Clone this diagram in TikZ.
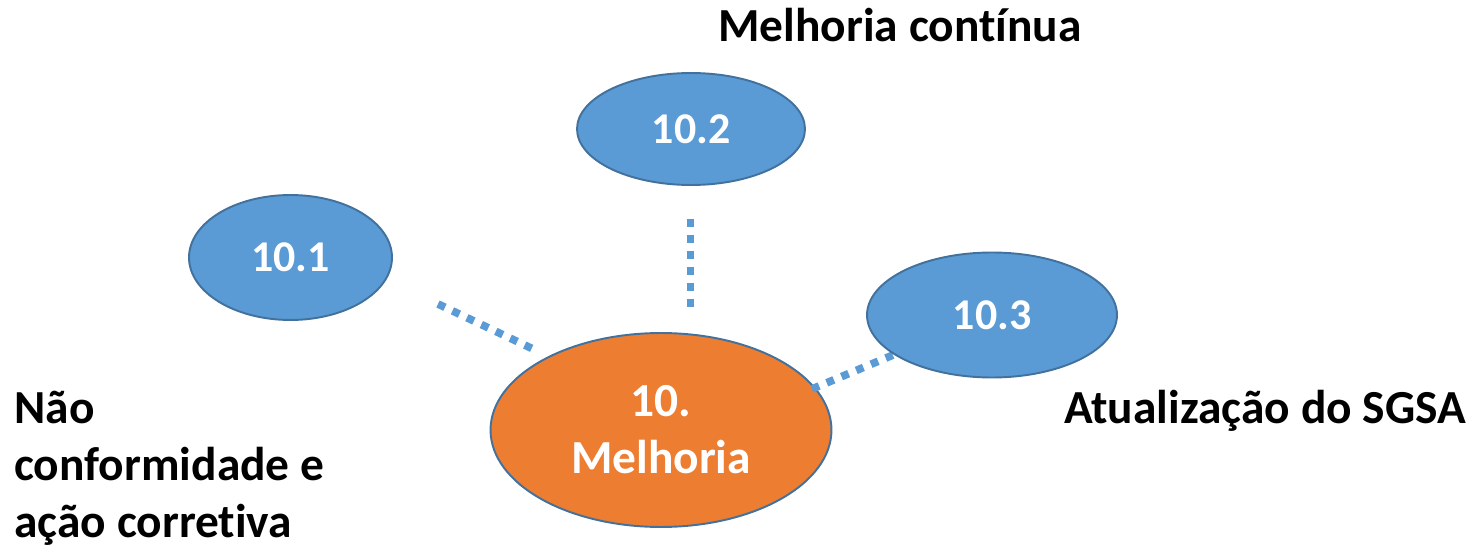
\documentclass[tikz,border=0pt]{standalone}
\usepackage{fontspec}
\setmainfont{Carlito}[Ligatures=NoCommon]
\usetikzlibrary{shapes.geometric}
\definecolor{clauseblue}{HTML}{5B9BD5}
\definecolor{clauseorange}{HTML}{ED7D31}
\definecolor{rimblue}{HTML}{41719C}
\tikzset{
  clause/.style={ellipse, draw=rimblue, line width=1.1pt, fill=clauseblue,
    text=white, inner sep=0pt, font=\fontsize{25}{32}\selectfont\bfseries},
  linkdots/.style={clauseblue, line width=4.4pt, dash pattern=on 4.4pt off 4.7pt},
  caption/.style={font=\fontsize{27}{32.4}\selectfont\bfseries, text=black, inner sep=0pt}
}

\begin{document}
\begin{tikzpicture}[x=0.02cm, y=-0.02cm]
        \useasboundingbox (0,0) rectangle (1478,547);
        % main clause
        \node[clause, fill=clauseorange, align=center, minimum width=6.82cm, minimum height=3.88cm,
          font=\fontsize{27}{32.4}\selectfont\bfseries] (c10) at (661,430) {10.\\Melhoria};
        % dotted links
        \coordinate (l1a) at (438,304);
        \coordinate (l1b) at (533,349);
        \coordinate (l2a) at (690.5,219);
        \coordinate (l2b) at (690.5,307);
        \coordinate (l3a) at (812,389);
        \coordinate (l3b) at (905,350);
        \draw[linkdots] (l1a) -- (l1b);
        \draw[linkdots] (l2a) -- (l2b);
        \draw[linkdots] (l3a) -- (l3b);
        % sub-clauses
        \node[clause, minimum width=4.06cm, minimum height=2.5cm] (c101) at (290.5,257.5) {10.1};
        \node[clause, minimum width=4.56cm, minimum height=2.24cm] (c102) at (691,129) {10.2};
        \node[clause, minimum width=5.0cm, minimum height=2.5cm] (c103) at (992,315) {10.3};
        % captions
        \node[caption, anchor=base] (t102) at (900,42) {Melhoria contínua};
        \node[caption, anchor=base] (t103) at (1265,423) {Atualização do SGSA};
        \node[caption, anchor=base west, align=left] (t101) at (14,537) {Não\\conformidade e\\ação corretiva};
\end{tikzpicture}
\end{document}
